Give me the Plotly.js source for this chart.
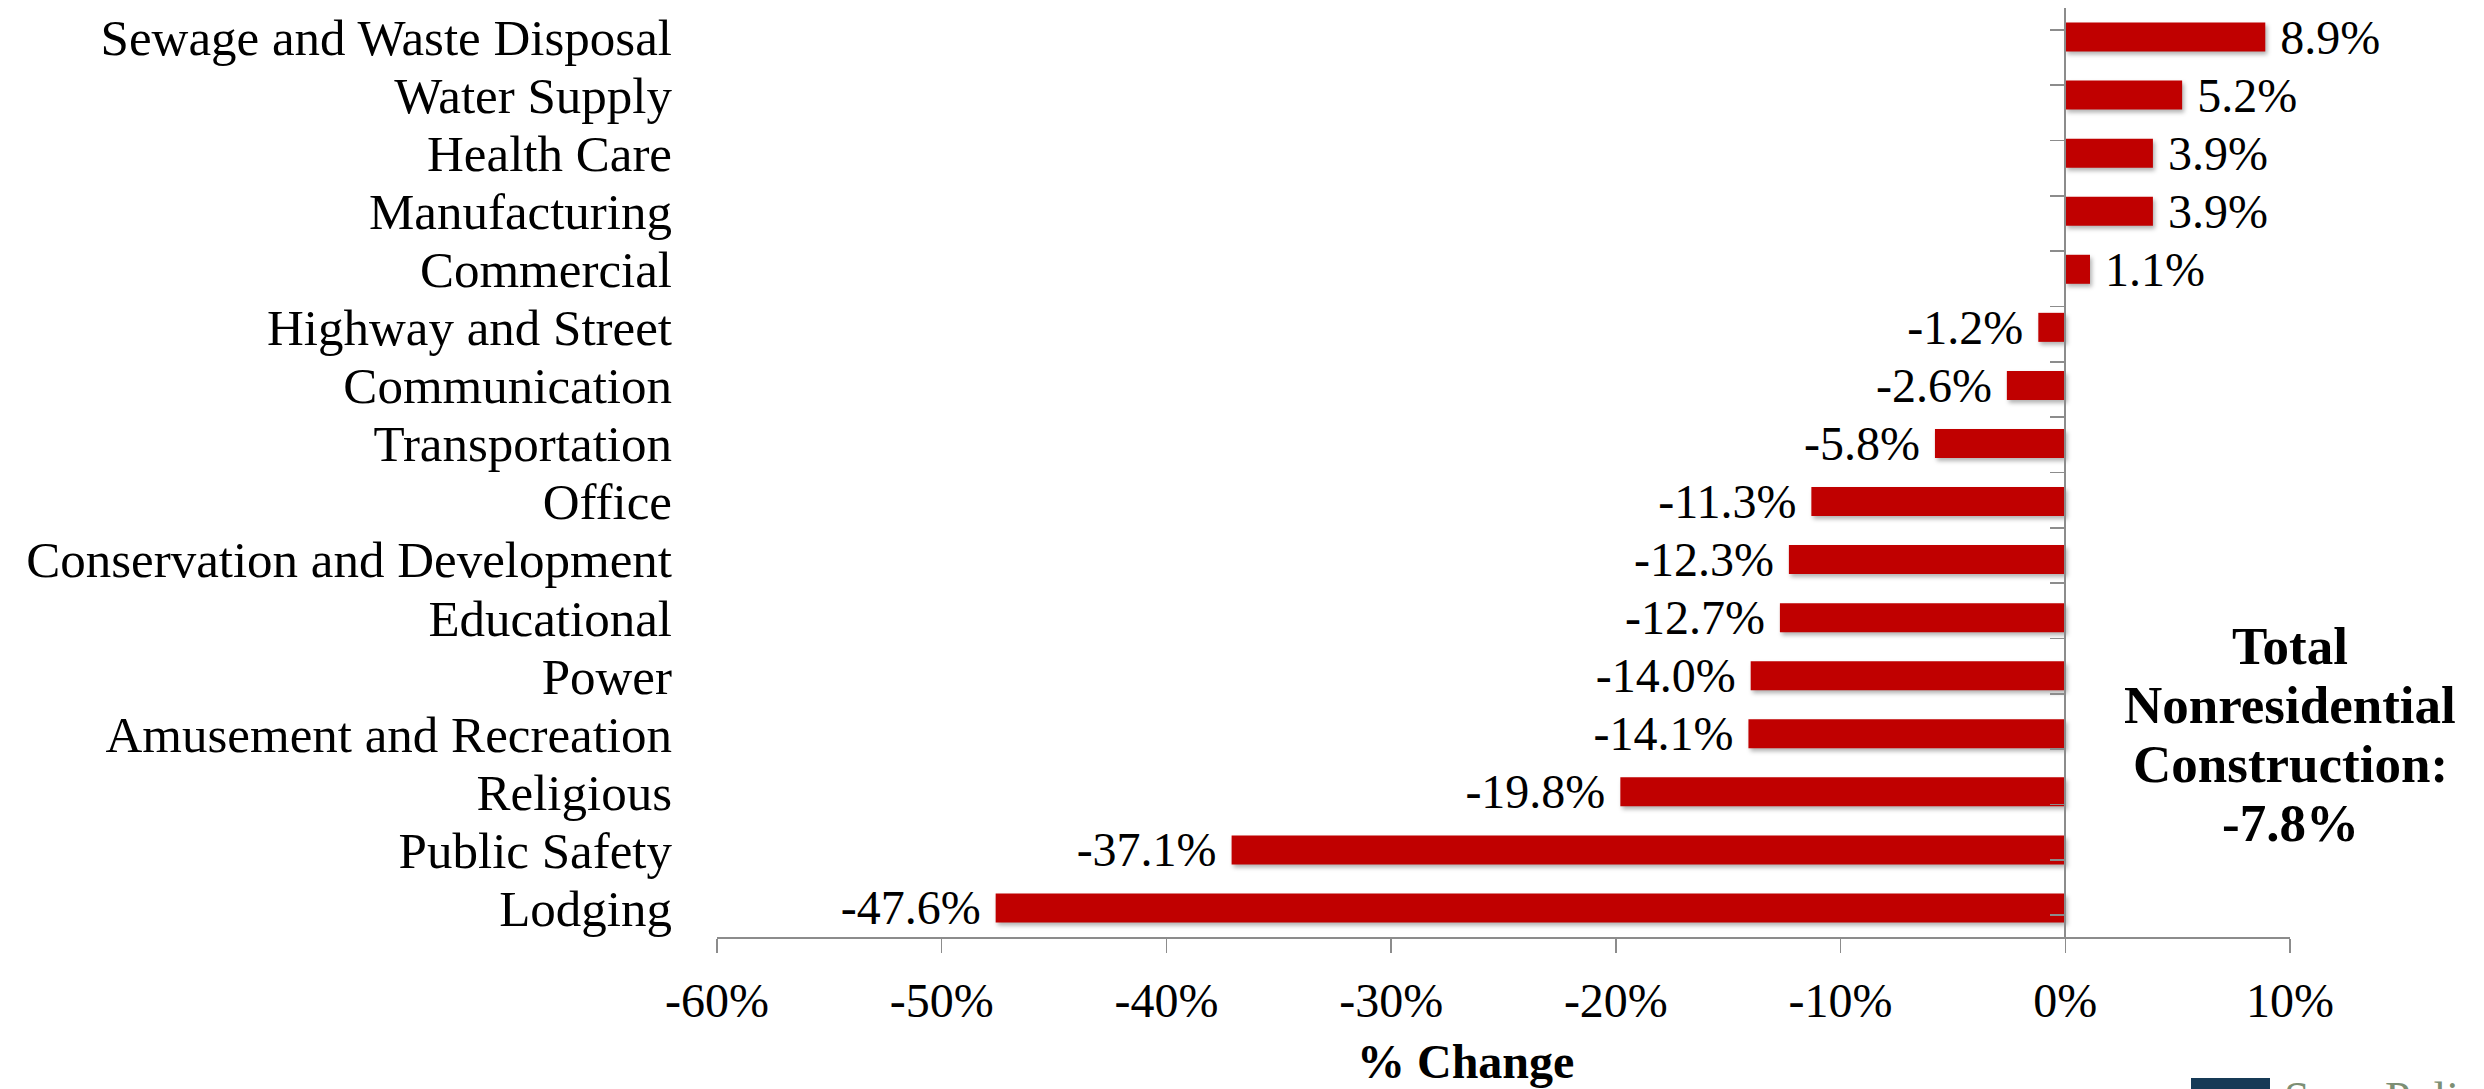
<!DOCTYPE html>
<html>
<head>
<meta charset="utf-8">
<script src="https://cdn.plot.ly/plotly-3.0.1.min.js"></script>
<style>
  html, body { margin: 0; padding: 0; background: #ffffff; }
  #chart { width: 2484px; height: 1089px; }
  /* soft drop shadow under each bar */
  .barlayer .point path { filter: drop-shadow(2px 3px 2px rgba(0,0,0,0.30)); }
</style>
</head>
<body>
<div id="chart"></div>
<script>
// Nonresidential construction spending, % change by category (top to bottom)
const categories = [
  "Sewage and Waste Disposal",
  "Water Supply",
  "Health Care",
  "Manufacturing",
  "Commercial",
  "Highway and Street",
  "Communication",
  "Transportation",
  "Office",
  "Conservation and Development",
  "Educational",
  "Power",
  "Amusement and Recreation",
  "Religious",
  "Public Safety",
  "Lodging"
];
const pctChange = [8.9, 5.2, 3.9, 3.9, 1.1, -1.2, -2.6, -5.8, -11.3, -12.3, -12.7, -14.0, -14.1, -19.8, -37.1, -47.6];

const xTickVals = [-60, -50, -40, -30, -20, -10, 0, 10];
const xTickText = ["-60%", "-50%", "-40%", "-30%", "-20%", "-10%", "0%", "10%"];

const totalLines = ["Total", "Nonresidential", "Construction:", "-7.8%"];
const xTitle = "% Change";
const brandName = "Sage Policy Group";

const xMin = -60, xMax = 10;
const zeroPos = (0 - xMin) / (xMax - xMin);

const serif = "Liberation Serif, Times New Roman, serif";
const NBSP = "\u00A0";

const labels = pctChange.map(v => v >= 0 ? NBSP + v.toFixed(1) + "%" : v.toFixed(1) + "%" + NBSP);

const bars = {
  type: "bar",
  orientation: "h",
  x: pctChange,
  y: categories,
  marker: { color: "#C00000", line: { width: 0 } },
  text: labels,
  textposition: "outside",
  constraintext: "none",
  cliponaxis: false,
  textfont: { family: serif, size: 48, color: "#000000" },
  hoverinfo: "x+y",
  showlegend: false
};

// carries the category axis drawn through zero (boundary ticks)
const zeroAxisCarrier = {
  type: "scatter",
  mode: "markers",
  x: categories.map(() => 0),
  y: categories,
  yaxis: "y2",
  marker: { opacity: 0, size: 1 },
  hoverinfo: "skip",
  showlegend: false
};

// plot area in pixels, used to place the free-standing texts
const plotTop = 8, plotBottom = 937, plotLeft = 717, plotRight = 2290;
const pyToPaper = p => (plotBottom - p) / (plotBottom - plotTop);
const pxToPaper = p => (p - plotLeft) / (plotRight - plotLeft);

// summary block, one line per annotation for tight leading
const totalFirstLineY = 646, totalLeading = 59;
const totalAnnotations = totalLines.map((line, i) => ({
  xref: "x", yref: "paper",
  x: xMax, y: pyToPaper(totalFirstLineY + i * totalLeading),
  xanchor: "center", yanchor: "middle",
  text: "<b>" + line + "</b>",
  showarrow: false,
  font: { family: serif, size: 53, color: "#000000" }
}));

const layout = {
  width: 2484,
  height: 1089,
  paper_bgcolor: "#ffffff",
  plot_bgcolor: "#ffffff",
  margin: { l: plotLeft, r: 2484 - plotRight, t: plotTop, b: 1089 - plotBottom, pad: 0 },
  bargap: 0.5,
  font: { family: serif, color: "#000000" },
  xaxis: {
    range: [xMin, xMax],
    tickmode: "array",
    tickvals: xTickVals,
    ticktext: xTickText,
    tickfont: { family: serif, size: 48, color: "#000000" },
    ticks: "outside",
    ticklen: 14,
    tickwidth: 1.5,
    tickcolor: "#8c8c8c",
    showline: true,
    linecolor: "#8c8c8c",
    linewidth: 2,
    showgrid: false,
    zeroline: false,
    ticklabelstandoff: 6,
    fixedrange: true
  },
  yaxis: {
    type: "category",
    categoryorder: "array",
    categoryarray: categories,
    tickmode: "array",
    tickvals: categories,
    ticktext: categories,
    autorange: "reversed",
    tickfont: { family: serif, size: 51, color: "#000000" },
    ticks: "",
    showline: false,
    showgrid: false,
    zeroline: false,
    ticklabelstandoff: 44,
    fixedrange: true
  },
  yaxis2: {
    type: "category",
    categoryorder: "array",
    categoryarray: categories,
    tickmode: "array",
    tickvals: categories,
    autorange: "reversed",
    overlaying: "y",
    anchor: "free",
    position: zeroPos,
    side: "left",
    showticklabels: false,
    ticks: "outside",
    tickson: "boundaries",
    ticklen: 14,
    tickwidth: 1.5,
    tickcolor: "#8c8c8c",
    showline: true,
    linecolor: "#8c8c8c",
    linewidth: 2,
    showgrid: false,
    zeroline: false,
    fixedrange: true
  },
  annotations: totalAnnotations.concat([
    {
      xref: "paper", yref: "paper",
      x: pxToPaper(1465), y: pyToPaper(1061),
      xanchor: "center", yanchor: "middle",
      text: "<b>" + xTitle + "</b>",
      showarrow: false,
      font: { family: serif, size: 48, color: "#000000" }
    },
    {
      xref: "paper", yref: "paper",
      x: pxToPaper(2282), y: pyToPaper(1071),
      xanchor: "left", yanchor: "top",
      text: brandName,
      showarrow: false,
      font: { family: serif, size: 46, color: "#7d8f74" }
    }
  ]),
  shapes: [
    {
      type: "rect",
      xref: "paper", yref: "paper",
      x0: pxToPaper(2191), x1: pxToPaper(2270),
      y0: pyToPaper(1078), y1: pyToPaper(1100),
      fillcolor: "#163a56",
      line: { width: 0 },
      layer: "above"
    }
  ]
};

Plotly.newPlot("chart", [bars, zeroAxisCarrier], layout, { displayModeBar: false, staticPlot: true });
</script>
</body>
</html>
